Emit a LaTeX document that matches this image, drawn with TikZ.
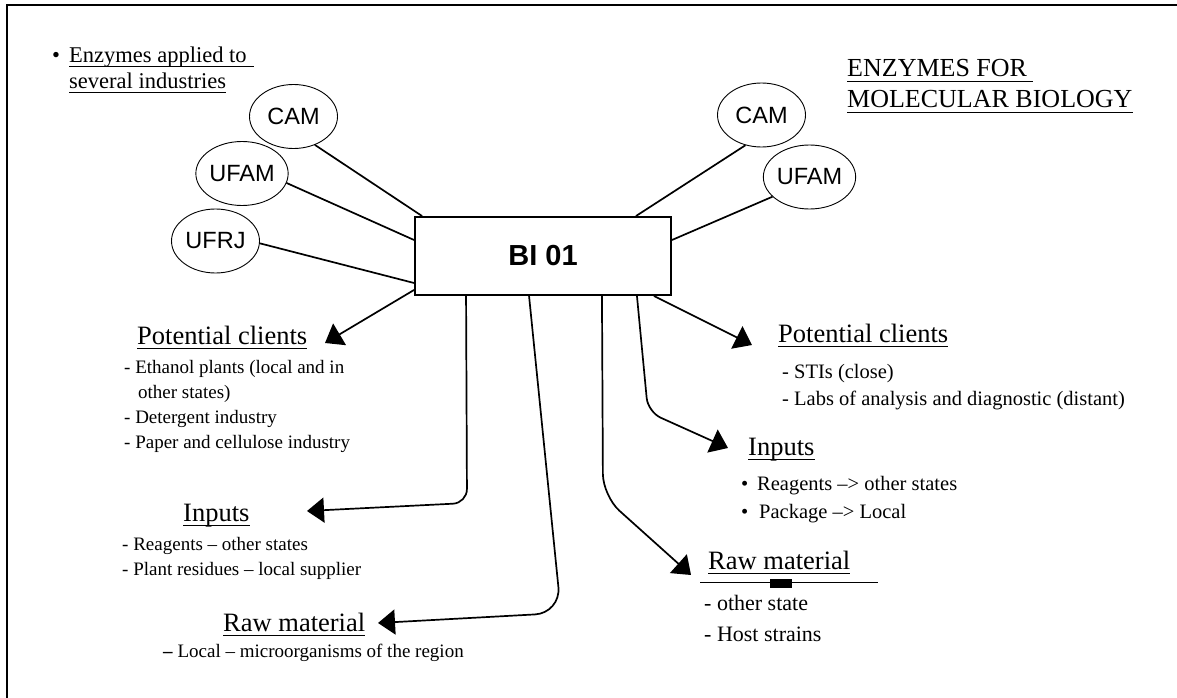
\documentclass[tikz,border=0pt]{standalone}
\usepackage{fontspec}
\setmainfont{Liberation Serif}
\newfontfamily\arialf{Liberation Sans}
\usetikzlibrary{arrows.meta,calc,shapes.geometric}
\begin{document}
\begin{tikzpicture}[x=1pt,y=-1pt,
  org/.style={ellipse,draw,line width=0.9pt,inner sep=0pt,minimum width=88pt,minimum height=64pt,font=\arialf\fontsize{23.5}{26}\selectfont},
  link/.style={line width=1.7pt},
  arr/.style={line width=1.7pt,-{Triangle[length=17pt,width=25pt]},rounded corners=14pt},
  head/.style={anchor=base west,inner sep=0pt,font=\fontsize{26.5}{30}\selectfont},
  ttl/.style={anchor=base west,inner sep=0pt,font=\fontsize{22.5}{26}\selectfont},
  rttl/.style={anchor=base west,inner sep=0pt,font=\fontsize{26}{30}\selectfont},
  item/.style={anchor=base west,inner sep=0pt,font=\fontsize{19}{22}\selectfont},
  ritem/.style={anchor=base west,inner sep=0pt,font=\fontsize{20.5}{24}\selectfont},
  bitem/.style={anchor=base west,inner sep=0pt,font=\fontsize{22}{26}\selectfont},
  uline/.style={line width=1pt}]
\useasboundingbox (0,0) rectangle (1177,698);
\fill[white] (0,0) rectangle (1177,698);
% frame
\draw[line width=2.5pt] (7,698) -- (7,5) -- (1177,5);

% central box
\node[draw,line width=1.9pt,minimum width=256pt,minimum height=78pt,inner sep=0pt,
      font=\arialf\bfseries\fontsize{29}{32}\selectfont] (box) at (543,256) {BI 01};

% left organisations
\node[org] (lcam)  at (293.5,116.5) {CAM};
\node[org] (lufam) at (242,173.5) {UFAM};
\node[org] (lufrj) at (215.5,241) {UFRJ};
% right organisations
\node[org] (rcam)  at (761.5,115) {CAM};
\node[org] (rufam) at (809.5,177) {UFAM};

\draw[link] (lcam.-53) -- ($(box.north west)+(8,0)$);
\draw[link] (lufam.-12) -- ($(box.west)+(0,-16)$);
\draw[link] (lufrj.-3) -- ($(box.west)+(0,27)$);
\draw[link] (rcam.-118) -- ($(box.north east)+(-36,0)$);
\draw[link] (rufam.-152) -- ($(box.east)+(0,-16)$);

% titles
\node[ttl] (bul) at (52,63) {\textbullet};
\node[ttl] (t1) at (69,63) {Enzymes applied to};
\node[ttl] (t2) at (69,89) {several industries};
\draw[uline] ([yshift=-4pt]t1.base west) -- ([yshift=-4pt,xshift=7pt]t1.base east);
\draw[uline] ([yshift=-4pt]t2.base west) -- ([yshift=-4pt]t2.base east);

\node[rttl] (r1) at (847,77) {ENZYMES FOR};
\node[rttl] (r2) at (847,108) {MOLECULAR BIOLOGY};
\draw[uline] ([yshift=-4.5pt]r1.base west) -- ([yshift=-4.5pt,xshift=6pt]r1.base east);
\draw[uline] ([yshift=-4.5pt]r2.base west) -- ([yshift=-4.5pt]r2.base east);

% left potential clients
\node[head] (lpc) at (137,344) {Potential clients};
\draw[uline] ([yshift=-4pt]lpc.base west) -- ([yshift=-4pt]lpc.base east);
\node[item] (lpc1) at (124,373) {- Ethanol plants (local and in};
\node[item] (lpc2) at (138,398) {other states)};
\node[item] (lpc3) at (124,423) {- Detergent industry};
\node[item] (lpc4) at (124,448) {- Paper and cellulose industry};

% left inputs
\node[head] (lin) at (183,521) {Inputs};
\draw[uline] ([yshift=-4pt]lin.base west) -- ([yshift=-4pt]lin.base east);
\node[item] (lin1) at (122,550) {- Reagents -- other states};
\node[item] (lin2) at (122,575) {- Plant residues -- local supplier};

% left raw material
\node[head] (lraw) at (223,631) {Raw material};
\draw[uline] ([yshift=-4pt]lraw.base west) -- ([yshift=-4pt]lraw.base east);
\node[item] (lraw1) at (163,657) {\textbf{--} Local -- microorganisms of the region};

% right potential clients
\node[head] (rpc) at (778,342) {Potential clients};
\draw[uline] ([yshift=-4pt]rpc.base west) -- ([yshift=-4pt]rpc.base east);
\node[ritem] (rpc1) at (782,378) {- STIs (close)};
\node[ritem] (rpc2) at (782,405) {- Labs of analysis and diagnostic (distant)};

% right inputs
\node[head] (rin) at (748,455) {Inputs};
\draw[uline] ([yshift=-4pt]rin.base west) -- ([yshift=-4pt]rin.base east);
\node[ritem] (rb1) at (741,490) {\textbullet};
\node[ritem] (rin1) at (757,490) {Reagents --> other states};
\node[ritem] (rb2) at (741,518) {\textbullet};
\node[ritem] (rin2) at (759,518) {Package --> Local};

% right raw material
\node[head] (rraw) at (708,569) {Raw material};
\draw[uline] ([yshift=-4pt]rraw.base west) -- ([yshift=-4pt]rraw.base east);
\draw[line width=0.8pt] (700,582) -- (878,582);
\fill (770,579) rectangle (792,588);
\node[bitem] (rraw1) at (704,610) {- other state};
\node[bitem] (rraw2) at (704,641) {- Host strains};

% arrow tips
\coordinate (tlpc) at (325,343);
\coordinate (tlin) at (307,511);
\coordinate (tlraw) at (378,623);
\coordinate (trpc) at (752,345);
\coordinate (trin) at (728,448);
\coordinate (trraw) at (691,575);

\draw[arr] ($(box.south west)+(0,-6)$) -- (tlpc);
\draw[arr] ($(box.south west)+(52,0)$) -- (467,503) -- (tlin);
\draw[arr,rounded corners=26pt] ($(box.south west)+(115,0)$) -- (561,613) -- (tlraw);
\draw[arr] ($(box.south east)+(-18,0)$) -- (trpc);
\draw[arr] ($(box.south east)+(-35,0)$) -- (648,412) -- (trin);
\draw[arr,rounded corners=22pt] ($(box.south east)+(-70,0)$) -- (603,496) -- (trraw);
\end{tikzpicture}
\end{document}
